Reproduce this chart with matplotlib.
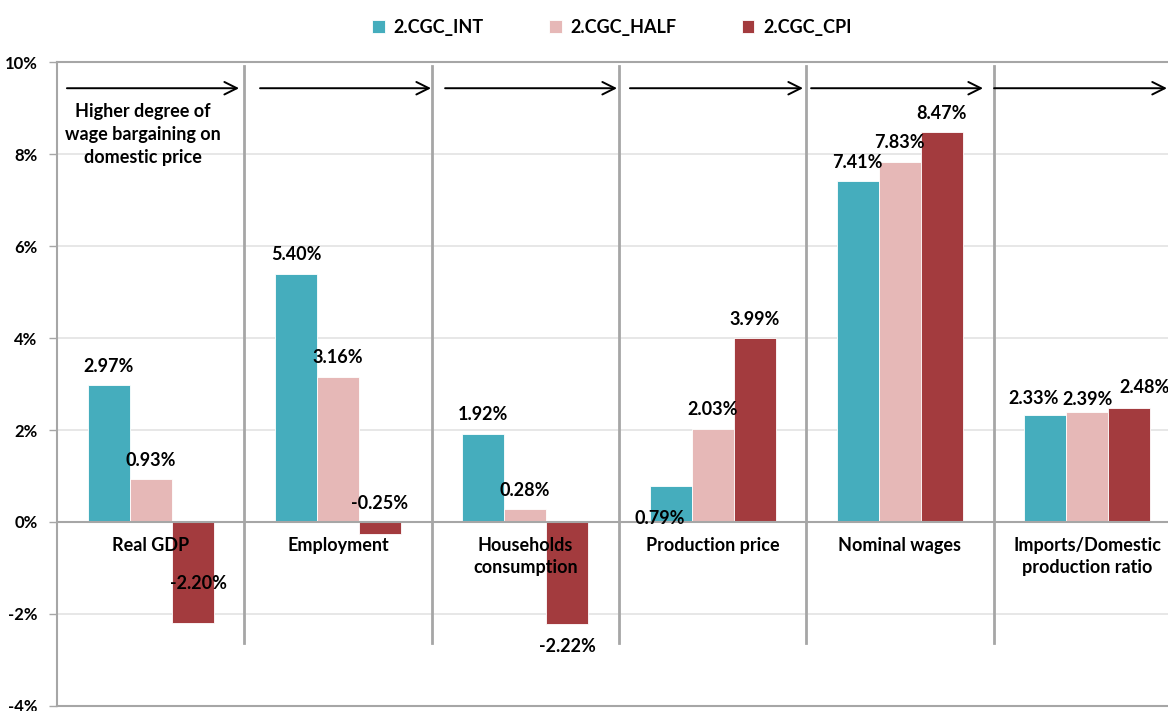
import matplotlib
matplotlib.use("Agg")
import matplotlib.pyplot as plt
import numpy as np

plt.rcParams['font.family'] = ['Lato', 'DejaVu Sans']
plt.rcParams['font.weight'] = 'bold'

# data
categories = ["Real GDP", "Employment", "Households\nconsumption",
              "Production price", "Nominal wages", "Imports/Domestic\nproduction ratio"]
series_names = ["2.CGC_INT", "2.CGC_HALF", "2.CGC_CPI"]
cgc_int = [2.97, 5.40, 1.92, 0.79, 7.41, 2.33]
cgc_half = [0.93, 3.16, 0.28, 2.03, 7.83, 2.39]
cgc_cpi = [-2.20, -0.25, -2.22, 3.99, 8.47, 2.48]
y_ticks = [-4, -2, 0, 2, 4, 6, 8, 10]
note = "Higher degree of\nwage bargaining on\ndomestic price"

colors = ["#45adbd", "#e6b8b7", "#a33b3e"]
GRAY = "#a6a6a6"

# label offsets (pixels) where they differ from the default "above the bar"
label_offsets = {
    (0, 2): (6, 40),
    (1, 2): (0, 30),
    (2, 2): (0, -22),
    (3, 0): (-11, -33),
    (5, 0): (-12, 16),
    (5, 1): (0, 13),
    (5, 2): (15, 20),
}

fig = plt.figure(figsize=(11.68, 7.11), dpi=100)
# plot area runs past the right edge of the picture, as in the reference
ax = fig.add_axes([57 / 1168, 5 / 711, 6 * 187.3 / 1168, 644 / 711])

x = np.arange(len(categories))
w = 0.2243
all_series = [cgc_int, cgc_half, cgc_cpi]
bars = []
for i, vals in enumerate(all_series):
    b = ax.bar(x + (i - 1) * w, vals, width=w, color=colors[i],
               edgecolor="white", linewidth=0.6, zorder=3, label=series_names[i])
    bars.append(b)

ax.set_xlim(-0.5, len(categories) - 0.5)
ax.set_ylim(-4, 10)
ax.set_yticks(y_ticks)
ax.set_yticklabels(["%d%%" % t for t in y_ticks], fontsize=12, fontweight="bold")
ax.set_xticks([])
ax.tick_params(axis="y", length=6, width=1, color=GRAY, pad=8)
ax.yaxis.grid(True, color="#e3e3e3", linewidth=1.2, zorder=0)
ax.set_axisbelow(True)
for s in ax.spines.values():
    s.set_color(GRAY)
    s.set_linewidth(1.5)
ax.axhline(0, color=GRAY, linewidth=1.5, zorder=4)

# group separators
for k in range(1, len(categories)):
    ax.plot([k - 0.5, k - 0.5], [-2.62, 9.91], color=GRAY, linewidth=2, zorder=2)

# arrows at the top of each group
arrow_spans = [(-0.447, 0.472), (0.584, 1.497), (1.572, 2.490),
               (2.559, 3.483), (3.526, 4.444), (4.503, 5.426)]
for a, b in arrow_spans:
    ax.annotate("", xy=(b, 9.43), xytext=(a, 9.43),
                arrowprops=dict(arrowstyle="->,head_length=0.9,head_width=0.45",
                                color="black", linewidth=1.4, shrinkA=0, shrinkB=0))

ax.text(-0.04, 9.1, note, ha="center", va="top", fontsize=13,
        fontweight="bold", linespacing=1.42)

# category labels under the zero line
for xi, name in zip(x, categories):
    ax.text(xi, -0.33, name, ha="center", va="top", fontsize=13,
            fontweight="bold", linespacing=1.35, zorder=5)

# data labels
for i, vals in enumerate(all_series):
    for j, v in enumerate(vals):
        dx, dy = label_offsets.get((j, i), (0, 19))
        ax.annotate("%.2f%%" % v, xy=(x[j] + (i - 1) * w, v), xytext=(dx, dy),
                    textcoords="offset pixels", ha="center", va="center",
                    fontsize=13, fontweight="bold", zorder=6)

fig.legend(handles=bars, labels=series_names, loc="center",
           bbox_to_anchor=(612 / 1168, 1 - 27 / 711), ncol=3, frameon=False,
           prop={"size": 13, "weight": "bold"}, handlelength=0.7,
           handleheight=0.7, handletextpad=0.5, columnspacing=3.6)

fig.savefig("out.png", dpi=100)
